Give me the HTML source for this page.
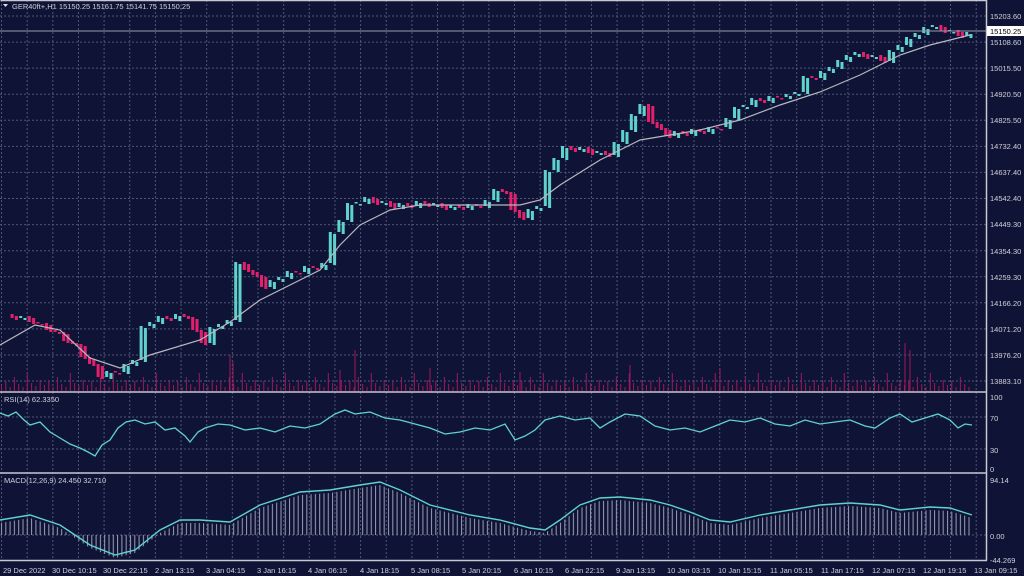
<!DOCTYPE html>
<html><head><meta charset="utf-8"><style>
html,body{margin:0;padding:0;background:#0f1437;}
svg{display:block;font-family:"Liberation Sans",sans-serif;}
</style></head><body>
<svg width="1024" height="576" xmlns="http://www.w3.org/2000/svg" xmlns:xlink="http://www.w3.org/1999/xlink">
<defs>
<pattern id="vg" patternUnits="userSpaceOnUse" x="1" y="0" width="25.65" height="4"><rect x="0" y="0" width="1" height="2" fill="#4f5478"/></pattern>
<pattern id="vol" patternUnits="userSpaceOnUse" x="0" y="341" width="43" height="50">
<rect x="1" y="44" width="1" height="6" fill="#a3155a"/><rect x="5.3" y="40" width="1" height="10" fill="#a3155a"/><rect x="9.6" y="46" width="1" height="4" fill="#a3155a"/><rect x="13.9" y="36" width="1" height="14" fill="#a3155a"/><rect x="18.2" y="43" width="1" height="7" fill="#a3155a"/><rect x="22.5" y="46" width="1" height="4" fill="#a3155a"/><rect x="26.8" y="32" width="1" height="18" fill="#a3155a"/><rect x="31.1" y="42" width="1" height="8" fill="#a3155a"/><rect x="35.4" y="45" width="1" height="5" fill="#a3155a"/><rect x="39.7" y="39" width="1" height="11" fill="#a3155a"/>
</pattern>
<pattern id="hist" patternUnits="userSpaceOnUse" x="0" y="0" width="4.3" height="10"><rect x="1" y="0" width="1" height="10" fill="#9c9eb4"/></pattern>
</defs>
<rect width="1024" height="576" fill="#0f1437"/>
<rect x="0" y="0" width="986" height="560" fill="url(#vg)"/>
<path d="M0 16H986M0 42.1H986M0 68.1H986M0 94.2H986M0 120.3H986M0 146.4H986M0 172.4H986M0 198.5H986M0 224.6H986M0 250.7H986M0 276.7H986M0 302.8H986M0 328.9H986M0 355H986M0 381H986M0 417H986M0 449H986M0 535H986" stroke="#4f5478" stroke-width="1" stroke-dasharray="2,2" fill="none"/>
<rect x="0" y="341" width="972" height="50" fill="url(#vol)"/>
<path d="M230 391V355M355 391V350M905 391V343M910 391V350M233 391V362M340 391V370M430 391V368M630 391V365M720 391V368M520 391V372" stroke="#a3155a" stroke-width="1"/>
<g id="cs">
<path d="M10.6 314h3v4h-3zM27.8 316h3v6h-3zM36.4 322h3v1.5h-3zM45 323h3v7h-3zM53.6 330h3v2h-3zM62.2 332h3v9h-3zM70.8 341h3v3h-3zM79.4 344h3v13h-3zM88 357h3v7h-3zM96.6 364h3v13h-3zM113.8 371h3v1.5h-3zM165.4 316h3v3h-3zM182.6 314h3v3h-3zM191.2 317h3v13h-3zM199.8 330h3v13h-3zM242.8 262h3v8h-3zM251.4 270h3v5h-3zM260 275h3v12h-3zM294.4 271h3v1.5h-3zM311.6 266h3v2h-3zM371.8 197h3v6h-3zM389 201h3v6h-3zM406.2 203h3v3h-3zM423.4 201h3v4h-3zM440.6 203h3v5h-3zM457.8 205h3v3h-3zM475 204h3v2h-3zM500.8 189h3v3h-3zM509.4 192h3v18h-3zM518 210h3v8h-3zM569.6 146h3v4h-3zM586.8 147h3v6h-3zM604 151h3v4h-3zM647 104h3v18h-3zM655.6 122h3v6h-3zM664.2 128h3v8h-3zM681.4 131h3v3h-3zM698.6 129h3v3h-3zM715.8 127h3v1.5h-3zM758.8 98h3v3h-3zM776 96h3v1.5h-3zM810.4 76h3v2h-3zM862 52h3v5h-3zM879.2 55h3v6h-3zM939.4 25h3v6h-3zM956.6 30h3v6h-3z" fill="#e4206c"/>
<path d="M19.2 316h3v2h-3zM105.2 371h3v6h-3zM122.4 364h3v8h-3zM131 360h3v4h-3zM139.6 326h3v34h-3zM148.2 322h3v4h-3zM156.8 316h3v6h-3zM174 314h3v5h-3zM208.4 327h3v16h-3zM217 324h3v3h-3zM225.6 320h3v4h-3zM234.2 262h3v58h-3zM268.6 280h3v7h-3zM277.2 277h3v3h-3zM285.8 271h3v6h-3zM303 266h3v6h-3zM320.2 263h3v5h-3zM328.8 232h3v31h-3zM337.4 220h3v12h-3zM346 203h3v17h-3zM354.6 202h3v1.5h-3zM363.2 197h3v5h-3zM380.4 201h3v2h-3zM397.6 203h3v4h-3zM414.8 201h3v5h-3zM432 203h3v2h-3zM449.2 205h3v3h-3zM466.4 204h3v4h-3zM483.6 200h3v6h-3zM492.2 189h3v11h-3zM526.6 209h3v9h-3zM535.2 206h3v3h-3zM543.8 170h3v36h-3zM552.4 158h3v12h-3zM561 146h3v12h-3zM578.2 147h3v3h-3zM595.4 151h3v2h-3zM612.6 142h3v13h-3zM621.2 130h3v12h-3zM629.8 114h3v16h-3zM638.4 104h3v10h-3zM672.8 131h3v5h-3zM690 129h3v5h-3zM707.2 127h3v5h-3zM724.4 118h3v9h-3zM733 107h3v11h-3zM741.6 105h3v2h-3zM750.2 98h3v7h-3zM767.4 96h3v5h-3zM784.6 94h3v3h-3zM793.2 92h3v2h-3zM801.8 76h3v16h-3zM819 71h3v7h-3zM827.6 67h3v4h-3zM836.2 60h3v7h-3zM844.8 55h3v5h-3zM853.4 52h3v3h-3zM870.6 55h3v2h-3zM887.8 50h3v11h-3zM896.4 45h3v5h-3zM905 37h3v8h-3zM913.6 33h3v4h-3zM922.2 27h3v6h-3zM930.8 25h3v2h-3zM948 30h3v1.5h-3zM965.2 32h3v4h-3z" fill="#5fd3cb"/>
</g>
<use xlink:href="#cs" href="#cs" x="4.3" y="2"/>
<path d="M0 345L35 325L60 330L90 358L120 368L150 355L200 340L230 322L260 300L300 280L320 270L340 245L360 225L390 210L420 205L480 205L520 205L540 200L560 185L600 160L640 140L700 130L740 120L780 105L820 92L860 75L900 55L930 45L970 35" stroke="#b8b8c0" stroke-width="1.2" fill="none"/>
<path d="M0 31H986" stroke="#9a9aa8" stroke-width="1"/>
<polyline points="0,413 8,416 16,412 24,420 30,425 40,422 50,432 60,438 70,444 80,448 88,452 95,456 102,445 110,440 118,428 126,422 135,420 145,424 155,422 165,430 175,428 185,436 190,442 198,432 205,428 218,424 230,425 245,430 260,428 275,432 290,426 305,428 320,424 335,414 345,410 355,414 370,412 385,418 400,420 415,424 430,428 445,434 460,432 475,428 490,430 505,424 515,440 525,436 535,430 545,420 560,416 575,420 590,418 600,428 610,422 625,414 640,416 655,426 670,430 685,428 700,432 715,426 730,420 745,422 760,418 775,424 790,426 805,420 820,424 835,422 850,420 865,426 875,428 890,418 900,414 912,422 925,418 938,414 950,420 958,428 965,424 972,425" stroke="#5fd3cb" stroke-width="1.3" fill="none"/>
<polygon points="0,535 0,523 30,518 60,528 90,548 115,558 135,553 160,533 180,523 200,523 230,525 260,508 300,495 330,493 360,488 380,485 400,493 430,508 470,518 500,523 530,531 545,533 560,523 580,508 600,501 620,500 650,503 670,508 690,515 710,523 730,525 760,518 790,513 820,508 850,506 880,508 900,513 930,510 950,511 972,518 972,535" fill="url(#hist)"/>
<polyline points="0,520 30,515 60,525 90,545 115,555 135,550 160,530 180,520 200,520 230,522 260,505 300,492 330,490 360,485 380,482 400,490 430,505 470,515 500,520 530,528 545,530 560,520 580,505 600,498 620,497 650,500 670,505 690,512 710,520 730,522 760,515 790,510 820,505 850,503 880,505 900,510 930,507 950,508 972,515" stroke="#5fd3cb" stroke-width="1.4" fill="none"/>
<path d="M0.5 0.5H986.5V560.5M0 392H987M0 473H987M0 560.5H987" stroke="#c8c8d0" stroke-width="1.5" fill="none"/>
<g fill="#d0d0d8" font-size="7.5">
<text x="990" y="19">15203.60</text><text x="990" y="45">15108.60</text><text x="990" y="71">15015.50</text><text x="990" y="97">14920.50</text><text x="990" y="123">14825.50</text><text x="990" y="149">14732.40</text><text x="990" y="175">14637.40</text><text x="990" y="201">14542.40</text><text x="990" y="227">14449.30</text><text x="990" y="254">14354.30</text><text x="990" y="280">14259.30</text><text x="990" y="306">14166.20</text><text x="990" y="332">14071.20</text><text x="990" y="358">13976.20</text><text x="990" y="384">13883.10</text>
<text x="990" y="400">100</text><text x="990" y="421">70</text><text x="990" y="453">30</text><text x="990" y="472">0</text>
<text x="990" y="483">94.14</text><text x="990" y="539">0.00</text><text x="990" y="563">-44.269</text>
<text x="3" y="573">29 Dec 2022</text><text x="52" y="573">30 Dec 10:15</text><text x="103" y="573">30 Dec 22:15</text><text x="155" y="573">2 Jan 13:15</text><text x="206" y="573">3 Jan 04:15</text><text x="257" y="573">3 Jan 16:15</text><text x="308" y="573">4 Jan 06:15</text><text x="360" y="573">4 Jan 18:15</text><text x="411" y="573">5 Jan 08:15</text><text x="462" y="573">5 Jan 20:15</text><text x="514" y="573">6 Jan 10:15</text><text x="565" y="573">6 Jan 22:15</text><text x="616" y="573">9 Jan 13:15</text><text x="667" y="573">10 Jan 03:15</text><text x="718" y="573">10 Jan 15:15</text><text x="770" y="573">11 Jan 05:15</text><text x="821" y="573">11 Jan 17:15</text><text x="872" y="573">12 Jan 07:15</text><text x="923" y="573">12 Jan 19:15</text><text x="974" y="573">13 Jan 09:15</text>
<text x="12" y="9">GER40ft+,H1  15150.25 15161.75 15141.75 15150.25</text>
<text x="4" y="402">RSI(14) 62.3350</text><text x="4" y="483">MACD(12,26,9) 24.450 32.710</text>
</g>
<path d="M3 4h5l-2.5 3z" fill="#e0e0e0"/>
<rect x="987" y="26" width="37" height="10" fill="#ffffff"/><text x="990" y="34" font-size="7.5" fill="#000">15150.25</text>
</svg>
</body></html>
